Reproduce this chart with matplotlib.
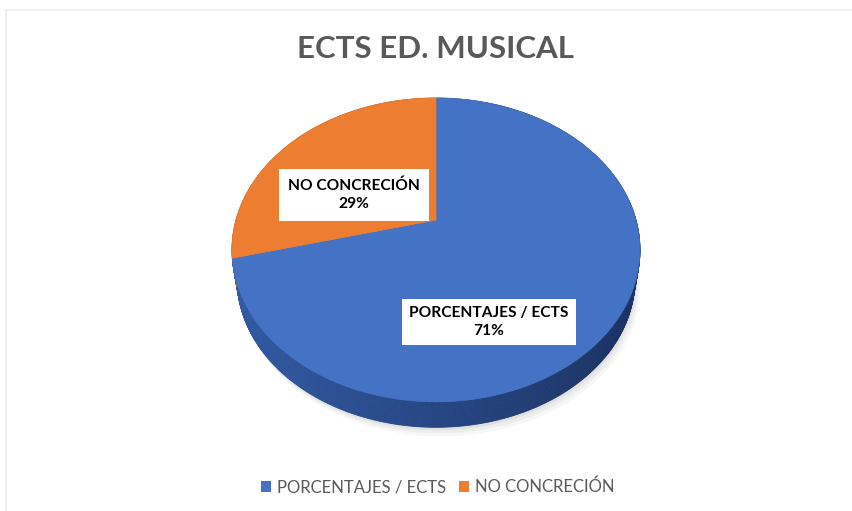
import matplotlib.pyplot as plt
from matplotlib.patches import Patch, Polygon
from matplotlib.lines import Line2D
from matplotlib.colors import to_rgb
import numpy as np

# data
categories = ['PORCENTAJES / ECTS', 'NO CONCRECIÓN']
values = [71, 29]
face_colors = ['#4472C4', '#ED7D31']
side_left = ['#3259a3', '#b8621f']
side_right = ['#1b3363', '#8a4515']
title = 'ECTS ED. MUSICAL'

W, H = 853, 511
fig = plt.figure(figsize=(W / 100, H / 100), dpi=100)
fig.patch.set_facecolor('white')

# faint chart-area border like the screenshot
fig.add_artist(Line2D([6 / W, 1], [1 - 10 / H, 1 - 10 / H], color='#ececec', lw=1.2))
fig.add_artist(Line2D([6 / W, 6 / W], [0, 1 - 10 / H], color='#ececec', lw=1.2))

ax = fig.add_axes([0, 0, 1, 1])

# let matplotlib compute the wedges, then tilt them in perspective
wedges, _ = ax.pie(values, colors=face_colors, startangle=90, counterclock=False)

cx, cy, a, b, p = 436, 220, 200, 146, 0.197   # screen centre / radii / perspective
depth = 30
shrink = 0.975   # lower disc is a bit further away from the eye


def proj(theta, s=1.0, dy=0.0):
    t = np.radians(theta)
    x, y = np.cos(t), np.sin(t)
    den = 1 + p * y
    return cx + s * a * x / den, cy - s * b * y / den + dy


def mix(c1, c2, f):
    c1, c2 = np.array(to_rgb(c1)), np.array(to_rgb(c2))
    return tuple(c1 + (c2 - c1) * f)


# soft shadow below the cake
th_all = np.linspace(0, 360, 361)
sx, sy = proj(th_all, shrink, depth)
for k, al in [(9, 0.03), (6, 0.04), (3, 0.05)]:
    ax.add_patch(Polygon(np.column_stack([sx + k * 0.6, sy + k]), closed=True,
                         fc='black', ec='none', alpha=al, zorder=1))

# side band, drawn in small pieces so it can darken towards the right
for i, w in enumerate(wedges):
    t1, t2 = min(w.theta1, w.theta2), max(w.theta1, w.theta2)
    th = np.linspace(t1, t2, int(abs(t2 - t1)) * 2 + 2)
    xs, ys = proj(th)
    xb, yb = proj(th, shrink, depth)
    for j in range(len(th) - 1):
        f = np.clip((xs[j] - (cx - a)) / (2 * a), 0, 1)
        col = mix(side_left[i], side_right[i], f)
        quad = [(xs[j], ys[j]), (xs[j + 1], ys[j + 1]),
                (xb[j + 1], yb[j + 1]), (xb[j], yb[j])]
        ax.add_patch(Polygon(quad, closed=True, fc=col, ec=col, lw=0.6, zorder=2))

# top face
for i, w in enumerate(wedges):
    t1, t2 = min(w.theta1, w.theta2), max(w.theta1, w.theta2)
    th = np.linspace(t1, t2, 200)
    xs, ys = proj(th)
    pts = [(cx, cy)] + list(zip(xs, ys))
    ax.add_patch(Polygon(pts, closed=True, fc=face_colors[i], ec=face_colors[i],
                         lw=0.5, zorder=3))
    w.set_visible(False)

ax.set_aspect('auto')
ax.set_xlim(0, W)
ax.set_ylim(H, 0)
ax.axis('off')

# data labels
pct = [f'{v}%' for v in values]
lab_pos = [(489, 322), (354, 195)]
lab_pad = [0.45, 0.6]
for i in range(len(values)):
    ax.text(lab_pos[i][0], lab_pos[i][1], categories[i] + '\n' + pct[i],
            ha='center', va='center', fontsize=11.2, fontweight='bold',
            family='Lato', color='black', linespacing=1.35, zorder=5,
            bbox=dict(boxstyle=f'square,pad={lab_pad[i]}', fc='white', ec='none'))

fig.text(436 / W, 1 - 49 / H, title, ha='center', va='center',
         fontsize=22.5, fontweight='bold', family='Lato', color='#595959')

handles = [Patch(facecolor=face_colors[i], edgecolor='none', label=categories[i])
           for i in range(len(values))]
leg = fig.legend(handles=handles, loc='center', bbox_to_anchor=(438 / W, 1 - 487 / H),
                 ncol=2, frameon=False, handlelength=0.6, handleheight=0.6,
                 handletextpad=0.35, columnspacing=0.8, prop=dict(family='Lato', size=12))
for t in leg.get_texts():
    t.set_color('#595959')

plt.savefig('out.png', dpi=100, facecolor='white')
